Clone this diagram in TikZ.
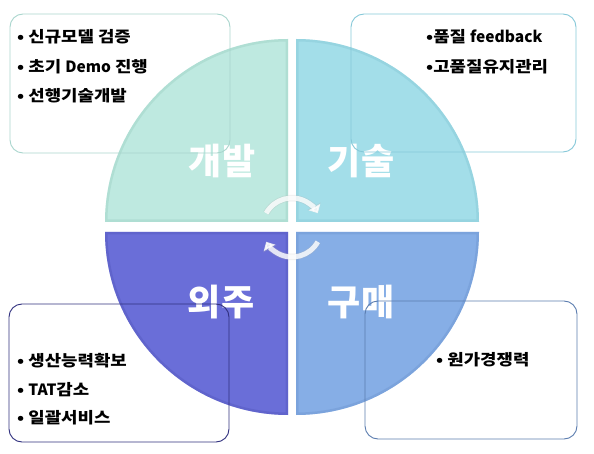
\documentclass[tikz,border=0pt]{standalone}
\usepackage{fontspec}
\setmainfont{Noto Sans CJK KR}
\newfontfamily\krw{Noto Sans CJK KR}[FakeStretch=1.15]
\newfontfamily\lat{Noto Sans CJK KR}
\usetikzlibrary{arrows.meta}
\definecolor{qtl}{HTML}{BEE9E0}
\definecolor{qtr}{HTML}{A3DEE9}
\definecolor{qbl}{HTML}{6A6ED8}
\definecolor{qbr}{HTML}{86AEE6}
\definecolor{etl}{HTML}{94CABD}
\definecolor{etr}{HTML}{7EC3D2}
\definecolor{ebl}{HTML}{4E52B8}
\definecolor{ebr}{HTML}{6890CC}
\definecolor{btl}{HTML}{A9D5CD}
\definecolor{btr}{HTML}{86C8D8}
\definecolor{bbl}{HTML}{30307E}
\definecolor{bbr}{HTML}{5A7CAE}
\tikzset{
  txtbox/.style={draw=#1, line width=0.9pt, rounded corners=13pt, inner sep=0pt},
  item/.style={anchor=west, inner sep=0pt, font=\krw\fontsize{15.5}{18}\selectfont\bfseries, text=black},
  biglabel/.style={inner sep=0pt, font=\fontsize{36}{40}\selectfont\bfseries, text=white},
  cyc/.style={line width=5pt, draw=white, opacity=0.8, -{Triangle[width=13pt,length=7pt]}},
  cycedge/.style={line width=6.5pt, draw=gray!60, opacity=0.25, -{Triangle[width=15pt,length=8pt]}}
}
\begin{document}
\begin{tikzpicture}[x=1pt,y=-1pt]
\useasboundingbox (0,0) rectangle (594,454);
% quadrants
\def\qTL{(288,222) -- (105,222) arc[start angle=180,end angle=270,radius=183] -- cycle}
\def\qTR{(296,222) -- (296,39) arc[start angle=270,end angle=360,radius=183] -- cycle}
\def\qBL{(288,232) -- (288,415) arc[start angle=90,end angle=180,radius=183] -- cycle}
\def\qBR{(296,232) -- (479,232) arc[start angle=0,end angle=90,radius=183] -- cycle}
\fill[qtl] \qTL;
\fill[qtr] \qTR;
\fill[qbl] \qBL;
\fill[qbr] \qBR;
\begin{scope}\clip \qTL; \draw[etl, line width=5pt, opacity=0.35] \qTL; \end{scope}
\begin{scope}\clip \qTR; \draw[etr, line width=5pt, opacity=0.35] \qTR; \end{scope}
\begin{scope}\clip \qBL; \draw[ebl, line width=5pt, opacity=0.35] \qBL; \end{scope}
\begin{scope}\clip \qBR; \draw[ebr, line width=5pt, opacity=0.35] \qBR; \end{scope}
% big labels
\node[biglabel] (dev) at (222,161) {개발};
\node[biglabel] (tech) at (361,161) {기술};
\node[biglabel] (out) at (221,302) {외주};
\node[biglabel] (buy) at (361,302) {구매};
% cycle arrows
\coordinate (cc) at (292,227.5);
\draw[cycedge] (cc) ++(209:29.5) arc[start angle=209,end angle=331,radius=29.5];
\draw[cyc] (cc) ++(209:29.5) arc[start angle=209,end angle=331,radius=29.5];
\draw[cycedge] (cc) ++(29:29.5) arc[start angle=29,end angle=151,radius=29.5];
\draw[cyc] (cc) ++(29:29.5) arc[start angle=29,end angle=151,radius=29.5];
% text boxes
\node[txtbox=btl, minimum width=220pt, minimum height=139pt] (tlbox) at (120,83.5) {};
\node[txtbox=btr, minimum width=225pt, minimum height=138pt] (trbox) at (463.5,83) {};
\node[txtbox=bbl, minimum width=220pt, minimum height=138pt] (blbox) at (119,373) {};
\node[txtbox=bbr, minimum width=212pt, minimum height=138pt] (brbox) at (471,370) {};
% items
\node[item] (tl1) at (17,37) {• 신규모델 검증};
\node[item] (tl2) at (17,67) {• 초기 {\lat\bfseries Demo} 진행};
\node[item] (tl3) at (17,96) {• 선행기술개발};
\node[item] (tr1) at (426,37) {•품질 {\lat\bfseries feedback}};
\node[item] (tr2) at (426,67) {•고품질유지관리};
\node[item] (bl1) at (17,361) {• 생산능력확보};
\node[item] (bl2) at (17,390) {• {\lat\bfseries TAT}감소};
\node[item] (bl3) at (17,418) {• 일괄서비스};
\node[item] (br1) at (436,360) {• 원가경쟁력};
\end{tikzpicture}
\end{document}
